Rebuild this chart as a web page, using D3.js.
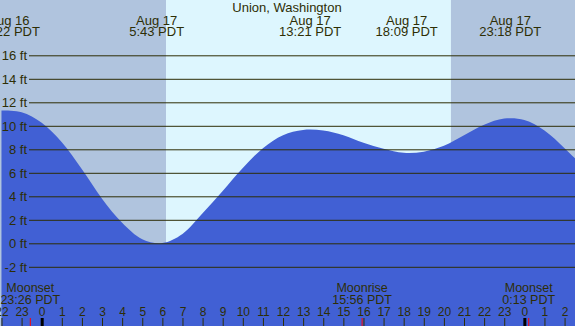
<!DOCTYPE html>
<html>
<head>
<meta charset="utf-8">
<script src="https://cdn.jsdelivr.net/npm/d3@7"></script>
<style>
  body { margin: 0; background: #fff; }
  svg { display: block; }
  text { font-family: 'Liberation Sans', Arial, sans-serif; fill: #2e2e05; }
</style>
</head>
<body>
<svg></svg>
<script>

// data (hours counted from Aug 17 00:00 PDT)

const title = 'Union, Washington';

const tideHours = [-2, -1, 0, 1, 2, 3, 4, 5, 6, 7, 8, 9, 10, 11, 12, 13, 14,
  15, 16, 17, 18, 19, 20, 21, 22, 23, 24, 25, 26, 27];
const tideHeights = [11.3, 11.15, 10.25, 8.6, 6.3, 3.8, 1.75, 0.35, 0.03, 0.8,
  2.55, 4.45, 6.4, 8.1, 9.2, 9.65, 9.6, 9.2, 8.55, 8.05, 7.7, 7.8, 8.3, 9.2,
  10.1, 10.62, 10.5, 9.6, 8.1, 6.4];

const tideEventHours = [-1.633, 5.717, 13.35, 18.15, 23.3];
const tideEventDates = ['Aug 16', 'Aug 17', 'Aug 17', 'Aug 17', 'Aug 17'];
const tideEventTimes = ['22:22 PDT', '5:43 PDT', '13:21 PDT', '18:09 PDT', '23:18 PDT'];

const moonEventHours = [-0.567, 15.933, 24.217];
const moonEventNames = ['Moonset', 'Moonrise', 'Moonset'];
const moonEventTimes = ['23:26 PDT', '15:56 PDT', '0:13 PDT'];

const sunriseHour = 6.183, sunsetHour = 20.35;

const yTicks = [-2, 0, 2, 4, 6, 8, 10, 12, 14, 16];
const hourTicks = d3.range(-2, 27);


// root svg

const width = 575, height = 326;

const svg = d3.select('svg')
  .attr('width', width)
  .attr('height', height);

const xScale = d3.scaleLinear()
  .domain([-2.0736, 26.519])
  .range([0, width]);

const yScale = d3.scaleLinear()
  .domain([0, 16])
  .range([243.3, 55.3]);


// day / night shading

const shades = [
  { from: xScale.domain()[0], to: sunriseHour, color: '#b0c4de' },
  { from: sunriseHour, to: sunsetHour, color: '#ddf6fe' },
  { from: sunsetHour, to: xScale.domain()[1], color: '#b0c4de' }
];

svg.append('g')
  .selectAll('rect')
  .data(shades)
  .enter()
    .append('rect')
    .attr('x', d => xScale(d.from))
    .attr('y', 0)
    .attr('width', d => xScale(d.to) - xScale(d.from))
    .attr('height', height)
    .style('fill', d => d.color);


// tide area

const tide = tideHours.map((h, i) => ({ hour: h, value: tideHeights[i] }));

const area = d3.area()
  .x(d => xScale(d.hour))
  .y0(height)
  .y1(d => yScale(d.value))
  .curve(d3.curveCatmullRom.alpha(0.5));

svg.append('path')
  .attr('d', area(tide))
  .style('fill', '#4160d4');


// y grid + labels

const yAxis = d3.axisRight(yScale)
  .tickValues(yTicks)
  .tickSize(width - 29)
  .tickFormat(d => `${d} ft`);

const yAxisG = svg.append('g')
  .attr('class', 'y-axis')
  .attr('transform', 'translate(29,0)')
  .call(yAxis);

yAxisG.select('.domain').remove();

yAxisG.selectAll('.tick line')
  .attr('stroke', '#2e2e05')
  .attr('stroke-width', 1);

yAxisG.selectAll('.tick text')
  .attr('x', -2)
  .attr('dy', '0.34em')
  .attr('text-anchor', 'end')
  .style('font-size', '13px')
  .style('font-family', "'Liberation Sans', Arial, sans-serif")
  .style('fill', '#2e2e05');


// title

svg.append('text')
  .attr('x', 287)
  .attr('y', 12)
  .attr('text-anchor', 'middle')
  .style('font-size', '13px')
  .text(title);


// tide extreme labels

const topG = svg.append('g')
  .selectAll('text')
  .data(tideEventHours)
  .enter()
    .append('text')
    .attr('text-anchor', 'middle')
    .style('font-size', '13px');

topG.append('tspan')
  .attr('x', d => xScale(d))
  .attr('y', 24.5)
  .text((d, i) => tideEventDates[i]);

topG.append('tspan')
  .attr('x', d => xScale(d))
  .attr('y', 36)
  .text((d, i) => tideEventTimes[i]);


// hour axis

const xAxis = d3.axisBottom(xScale)
  .tickValues(hourTicks)
  .tickSize(8)
  .tickPadding(0)
  .tickFormat(d => ((d % 24) + 24) % 24);

const xAxisG = svg.append('g')
  .attr('class', 'x-axis')
  .attr('transform', 'translate(0,318)')
  .call(xAxis);

xAxisG.select('.domain').remove();

xAxisG.selectAll('.tick line')
  .attr('stroke-width', d => (d % 24 === 0 ? 3 : 1))
  .attr('stroke', d => (d % 24 === 0 ? '#000' : '#2e2e05'));

xAxisG.selectAll('.tick text')
  .attr('y', -2)
  .attr('dy', 0)
  .style('font-size', '12px')
  .style('font-family', "'Liberation Sans', Arial, sans-serif")
  .style('fill', '#2e2e05');


// moon events

svg.append('g')
  .selectAll('line')
  .data(moonEventHours)
  .enter()
    .append('line')
    .attr('x1', d => xScale(d))
    .attr('x2', d => xScale(d))
    .attr('y1', 318)
    .attr('y2', height)
    .attr('stroke', '#ff0000')
    .attr('stroke-width', 1);

const moonG = svg.append('g')
  .selectAll('text')
  .data(moonEventHours)
  .enter()
    .append('text')
    .attr('text-anchor', 'middle')
    .style('font-size', '12.5px');

moonG.append('tspan')
  .attr('x', d => xScale(d))
  .attr('y', 292)
  .text((d, i) => moonEventNames[i]);

moonG.append('tspan')
  .attr('x', d => xScale(d))
  .attr('y', 303.5)
  .text((d, i) => moonEventTimes[i]);

</script>
</body>
</html>
